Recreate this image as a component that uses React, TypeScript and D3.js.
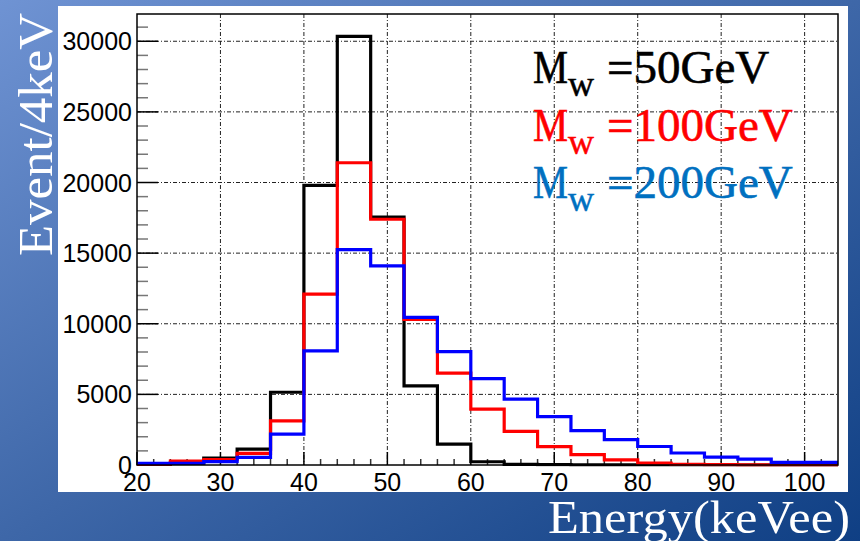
import React, { useRef, useEffect } from 'react';
import * as d3 from 'd3';

// bin lower edges (keVee), 4 keV wide
const binEdges = [20, 24, 28, 32, 36, 40, 44, 48, 52, 56, 60, 64, 68, 72, 76, 80, 84, 88, 92, 96, 100];
const binWidth = 4;

// events per bin
const mw50 = [40, 150, 480, 1120, 5150, 19800, 30350, 17550, 5600, 1480, 230, 40, 20, 15, 10, 5, 0, 0, 0, 0, 0];
const mw100 = [50, 280, 380, 820, 3120, 12100, 21400, 17400, 10300, 6500, 3950, 2380, 1300, 730, 360, 130, 50, 25, 15, 10, 5];
const mw200 = [110, 110, 240, 540, 2180, 8080, 15250, 14100, 10450, 8020, 6120, 4660, 3430, 2430, 1800, 1310, 850, 560, 420, 190, 180];

const xTicks = [20, 30, 40, 50, 60, 70, 80, 90, 100];
const yTicks = [0, 5000, 10000, 15000, 20000, 25000, 30000];

const series = [
  { name: '50GeV', values: mw50, line: '#000000', text: '#000000' },
  { name: '100GeV', values: mw100, line: '#ff0000', text: '#ff0000' },
  { name: '200GeV', values: mw200, line: '#0000ff', text: '#0070c0' },
];

function App() {
  const ref = useRef<SVGSVGElement>(null);

  useEffect(() => {
    const svg = d3.select(ref.current);
    svg.selectAll('*').remove();

    const W = 860, H = 541;
    const frame = { left: 137, right: 838, top: 14, bottom: 465 };

    const x = d3.scaleLinear().domain([20, 104]).range([frame.left, frame.right]);
    const y = d3.scaleLinear().domain([0, 31930]).range([frame.bottom, frame.top]);

    // background gradient
    const defs = svg.append('defs');
    const grad = defs.append('linearGradient').attr('id', 'bg')
      .attr('x1', 0).attr('y1', 0).attr('x2', 1).attr('y2', 1);
    grad.append('stop').attr('offset', '0%').attr('stop-color', '#6f93d3');
    grad.append('stop').attr('offset', '50%').attr('stop-color', '#3e67a8');
    grad.append('stop').attr('offset', '100%').attr('stop-color', '#0f3f84');
    svg.append('rect').attr('width', W).attr('height', H).attr('fill', 'url(#bg)');

    const serif = '"Liberation Serif", "DejaVu Serif", serif';

    // y title (partly hidden behind the white pad)
    svg.append('text')
      .attr('transform', 'translate(52,256) rotate(-90)')
      .attr('fill', '#fff')
      .attr('font-family', serif)
      .attr('font-size', 48)
      .attr('textLength', 243)
      .attr('lengthAdjust', 'spacingAndGlyphs')
      .text('Event/4keV');

    // white pad
    svg.append('rect').attr('x', 58).attr('y', 6).attr('width', 790).attr('height', 486).attr('fill', '#fff');

    const g = svg.append('g');

    // grid
    const dash = '4,2,1,2';
    g.selectAll('.gx').data(xTicks.filter(t => t > 20)).enter().append('line')
      .attr('x1', d => x(d)).attr('x2', d => x(d))
      .attr('y1', frame.top).attr('y2', frame.bottom)
      .attr('stroke', '#222').attr('stroke-width', 1).attr('stroke-dasharray', dash);
    g.selectAll('.gy').data(yTicks.filter(t => t > 0)).enter().append('line')
      .attr('x1', frame.left).attr('x2', frame.right)
      .attr('y1', d => y(d)).attr('y2', d => y(d))
      .attr('stroke', '#222').attr('stroke-width', 1).attr('stroke-dasharray', dash);

    // ticks
    const yMinor = d3.range(0, 32000, 1000).filter(v => v % 5000 !== 0);
    g.selectAll('.ymin').data(yMinor).enter().append('line')
      .attr('x1', frame.left).attr('x2', frame.left + 11)
      .attr('y1', d => y(d)).attr('y2', d => y(d))
      .attr('stroke', '#777').attr('stroke-width', 1.5);
    g.selectAll('.ymaj').data(yTicks).enter().append('line')
      .attr('x1', frame.left).attr('x2', frame.left + 21)
      .attr('y1', d => y(d)).attr('y2', d => y(d))
      .attr('stroke', '#000').attr('stroke-width', 1.5);
    const xMinor = d3.range(22, 104, 2).filter(v => v % 10 !== 0);
    g.selectAll('.xmin').data(xMinor).enter().append('line')
      .attr('x1', d => x(d)).attr('x2', d => x(d))
      .attr('y1', frame.bottom).attr('y2', frame.bottom - 6)
      .attr('stroke', '#333').attr('stroke-width', 1.5);
    g.selectAll('.xmaj').data(xTicks).enter().append('line')
      .attr('x1', d => x(d)).attr('x2', d => x(d))
      .attr('y1', frame.bottom).attr('y2', frame.bottom - 13)
      .attr('stroke', '#000').attr('stroke-width', 1.5);

    // histograms
    const line = d3.line<[number, number]>()
      .x(d => x(d[0])).y(d => y(d[1]))
      .curve(d3.curveStepAfter);
    const clip = defs.append('clipPath').attr('id', 'frameClip');
    clip.append('rect').attr('x', frame.left).attr('y', frame.top)
      .attr('width', frame.right - frame.left).attr('height', frame.bottom - frame.top + 1.5);
    series.forEach(s => {
      const pts: [number, number][] = s.values.map((v, i) => [binEdges[i], v]);
      pts.push([binEdges[binEdges.length - 1] + binWidth, s.values[s.values.length - 1]]);
      g.append('path')
        .attr('d', line(pts))
        .attr('fill', 'none')
        .attr('stroke', s.line)
        .attr('stroke-width', 3.2)
        .attr('clip-path', 'url(#frameClip)');
    });

    // frame
    g.append('rect')
      .attr('x', frame.left).attr('y', frame.top)
      .attr('width', frame.right - frame.left).attr('height', frame.bottom - frame.top)
      .attr('fill', 'none').attr('stroke', '#000').attr('stroke-width', 1.5);

    // tick labels
    const sans = '"Liberation Sans", Arial, sans-serif';
    g.selectAll('.yl').data(yTicks).enter().append('text')
      .attr('x', 132).attr('y', d => y(d) + 9)
      .attr('text-anchor', 'end')
      .attr('font-family', sans).attr('font-size', 25)
      .text(d => d);
    g.selectAll('.xl').data(xTicks).enter().append('text')
      .attr('x', d => x(d)).attr('y', 491)
      .attr('text-anchor', 'middle')
      .attr('font-family', sans).attr('font-size', 25)
      .text(d => d);

    // x title
    svg.append('text')
      .attr('x', 548).attr('y', 533)
      .attr('fill', '#fff')
      .attr('font-family', serif)
      .attr('font-size', 46)
      .attr('textLength', 302)
      .attr('lengthAdjust', 'spacingAndGlyphs')
      .text('Energy(keVee)');

    // legend
    const leg = svg.append('g');
    series.forEach((s, i) => {
      const base = 83 + i * 57.5;
      leg.append('text').attr('x', 533).attr('y', base)
        .attr('fill', s.text).attr('stroke', s.text).attr('stroke-width', 0.6)
        .attr('font-family', serif).attr('font-size', 47)
        .attr('textLength', 35).attr('lengthAdjust', 'spacingAndGlyphs')
        .text('M');
      leg.append('text').attr('x', 568).attr('y', base + 13)
        .attr('fill', s.text).attr('stroke', s.text).attr('stroke-width', 0.5)
        .attr('font-family', serif).attr('font-size', 36)
        .text('w');
      leg.append('text').attr('x', 607).attr('y', base)
        .attr('fill', s.text).attr('stroke', s.text).attr('stroke-width', 0.6)
        .attr('font-family', serif).attr('font-size', 47)
        .text('=' + s.name);
    });
  }, []);

  return <svg ref={ref} width={860} height={541} style={{ position: 'absolute', left: 0, top: 0 }}></svg>;
}

export default App;
